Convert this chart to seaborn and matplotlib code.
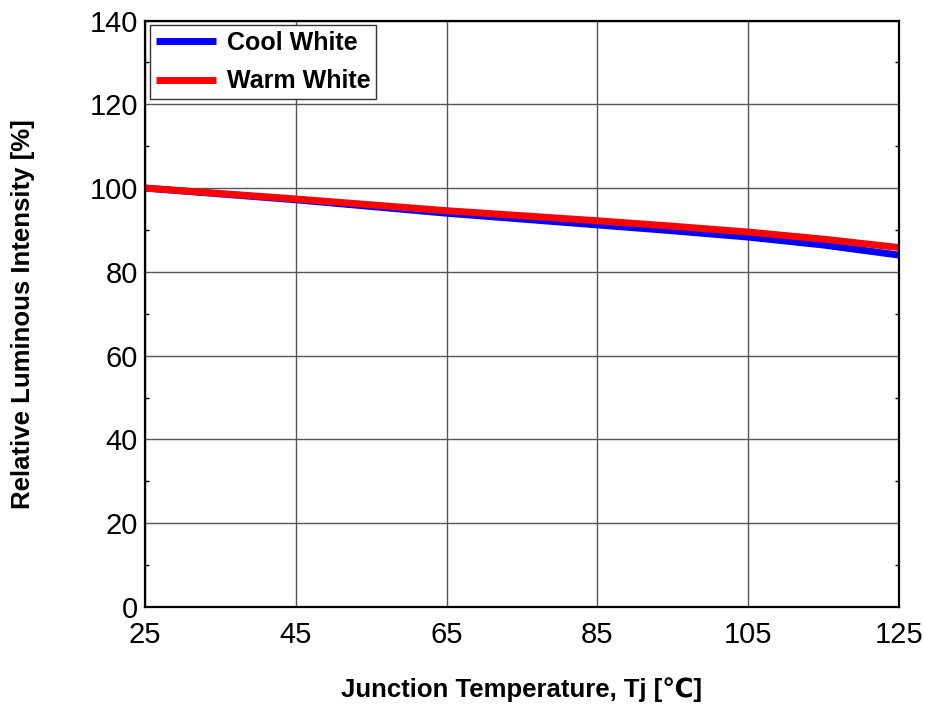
import numpy as np
import pandas as pd
import matplotlib
matplotlib.use("Agg")
import matplotlib.pyplot as plt
import seaborn as sns
from matplotlib.ticker import MultipleLocator

# ---- data ----
temps = [25, 35, 45, 55, 65, 75, 85, 95, 105, 115, 125]
cool_white = [100.0, 98.6, 97.2, 95.6, 94.0, 92.6, 91.2, 89.8, 88.3, 86.4, 84.0]
warm_white = [100.0, 98.7, 97.4, 96.0, 94.6, 93.4, 92.2, 90.9, 89.5, 87.8, 85.8]
series_names = ["Cool White", "Warm White"]
series_colors = ["#0000FF", "#FF0000"]
x_ticks = [25, 45, 65, 85, 105, 125]
y_ticks = [0, 20, 40, 60, 80, 100, 120, 140]

df = pd.DataFrame({
    "Tj": temps * 2,
    "value": cool_white + warm_white,
    "series": [series_names[0]] * len(temps) + [series_names[1]] * len(temps),
})

sns.set_style("white")
plt.rcParams["font.family"] = ["Liberation Sans", "DejaVu Sans"]
plt.rcParams["text.color"] = "black"
plt.rcParams["axes.labelcolor"] = "black"
plt.rcParams["xtick.color"] = "black"
plt.rcParams["ytick.color"] = "black"

fig = plt.figure(figsize=(9.25, 7.09), dpi=100)
ax = fig.add_axes([145 / 925, 1 - 607 / 709, (899 - 145) / 925, (607 - 20.5) / 709])

sns.lineplot(data=df, x="Tj", y="value", hue="series", hue_order=series_names,
             palette=series_colors, linewidth=5.0, ax=ax, legend=True,
             solid_capstyle="butt")

ax.set_xlim(25, 125)
ax.set_ylim(0, 140)
ax.set_xticks(x_ticks)
ax.set_yticks(y_ticks)
ax.yaxis.set_minor_locator(MultipleLocator(10))
ax.grid(True, which="major", color="#555555", linewidth=1.0)
ax.set_axisbelow(True)
for s in ax.spines.values():
    s.set_color("black")
    s.set_linewidth(1.6)
    s.set_visible(True)

ax.tick_params(axis="both", which="major", labelsize=21, length=0, colors="black")
ax.tick_params(axis="x", which="major", pad=10)
ax.tick_params(axis="y", which="major", pad=5)
ax.tick_params(axis="y", which="minor", direction="in", length=3, width=1, left=True, right=True)

ax.set_xlabel("Junction Temperature, Tj [℃]", fontsize=18.5, fontweight="bold", labelpad=0)
ax.set_ylabel("Relative Luminous Intensity [%]", fontsize=18.5, fontweight="bold", labelpad=0)
ax.xaxis.set_label_coords(0.5, (607 - 677) / (607 - 20.5))
ax.yaxis.set_label_coords((35 - 145) / (899 - 145), 0.5)

leg = ax.legend(loc="upper left", bbox_to_anchor=(5 / 754, 1 - 4.5 / 586.5),
                frameon=True, fancybox=False, borderaxespad=0,
                prop={"size": 18, "weight": "bold"}, handlelength=2.4,
                handletextpad=0.45, labelspacing=0.6, borderpad=0.22)
leg.get_frame().set_edgecolor("#333333")
leg.get_frame().set_linewidth(1.0)
leg.get_frame().set_alpha(1)
for line in leg.get_lines():
    line.set_linewidth(5.0)
for t in leg.get_texts():
    t.set_color("black")

fig.savefig("out.png", dpi=100)
